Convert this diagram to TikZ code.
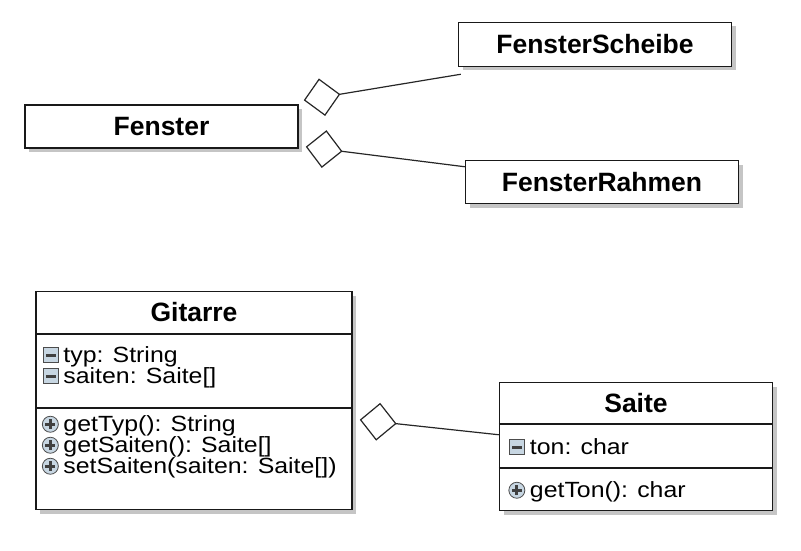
\documentclass[tikz,border=0pt]{standalone}
\usepackage{fontspec}
\setmainfont{Liberation Sans}
\newfontfamily\memberfont[FakeStretch = 1.13]{Liberation Sans}
\usetikzlibrary{positioning}
\usetikzlibrary{shadows}
\usetikzlibrary{arrows.meta}
\usetikzlibrary{calc}
\definecolor{iconfill}{RGB}{199,214,226}

\begin{document}
\begin{tikzpicture}[x = 1pt, y = -1pt,
classbox/.style = {draw = black!90, line width = 1.5pt, fill = white, drop shadow = {shadow xshift = 4pt, shadow yshift = -4pt, fill = black!45}, inner sep = 0pt, font = \fontsize{26.5}{30}\selectfont\bfseries},
classname/.style = {inner sep = 0pt, font = \fontsize{26.5}{30}\selectfont\bfseries},
member/.style = {anchor = base west, inner sep = 0pt, text height = 14pt, text depth = 4pt, font = \memberfont\fontsize{22}{26}\selectfont},
privicon/.style = {draw = black!70, fill = iconfill, thick, minimum width = 15pt, minimum height = 15pt, inner sep = 0pt, xshift = -4.5pt, yshift = 2.5pt, path picture = {\fill[black!75] ($(path picture bounding box.center)+(-5,-1.6)$) rectangle +(10,3.2);}},
pubicon/.style = {circle, draw = black!70, fill = iconfill, thick, minimum width = 16pt, minimum height = 16pt, inner sep = 0pt, xshift = -4.5pt, yshift = 2.5pt, path picture = {\fill[black!75] ($(path picture bounding box.center)+(-5,-1.5)$) rectangle +(10,3); \fill[black!75] ($(path picture bounding box.center)+(-1.5,-5)$) rectangle +(3,10);}},
priv/.style = {label = {[privicon]left:{}}},
pub/.style = {label = {[pubicon]left:{}}},
sepline/.style = {draw = black!90, line width = 1.5pt},
aggr/.style = {{Diamond[fill = white, length = 37pt, width = 38pt]}-, draw = black!85, line width = 1.2pt},
]
\useasboundingbox (0,0) rectangle (801,551);

% windows
\node[classbox, minimum width = 273pt, minimum height = 43pt] (fenster) at (161.5,126.5) {Fenster};
\node[classbox, minimum width = 273pt, minimum height = 44pt] (scheibe) [above right = 37pt and 159pt of fenster.north east] {FensterScheibe};
\node[classbox, minimum width = 273pt, minimum height = 43pt] (rahmen) [below right = 11pt and 166pt of fenster.south east] {FensterRahmen};

\coordinate (fscheibe) at ($(fenster.north east)+(5,-4)$);
\coordinate (tscheibe) at ($(scheibe.south west)+(3,7)$);
\coordinate (frahmen) at ($(fenster.south east)+(7,-2)$);
\coordinate (trahmen) at ($(rahmen.north west)+(0,7)$);
\draw[aggr] (fscheibe) -- (tscheibe);
\draw[aggr] (frahmen) -- (trahmen);

% guitar
\node[classbox, minimum width = 316pt, minimum height = 218pt] (gitarre) [below right = 142pt and 11pt of fenster.south west] {};
\node[classname] (gitarrename) at ($(gitarre.north)+(0,21.5)$) {Gitarre};
\draw[sepline] ($(gitarre.north west)+(0,43)$) -- ($(gitarre.north east)+(0,43)$);
\draw[sepline] ($(gitarre.north west)+(0,117)$) -- ($(gitarre.north east)+(0,117)$);
\node[member, priv] (typ) at ($(gitarre.north west)+(28,72)$) {typ: String};
\node[member, priv] (saiten) at ($(gitarre.north west)+(28,93)$) {saiten: Saite[]};
\node[member, pub] (gettyp) at ($(gitarre.north west)+(28,141)$) {getTyp(): String};
\node[member, pub] (getsaiten) at ($(gitarre.north west)+(28,162)$) {getSaiten(): Saite[]};
\node[member, pub] (setsaiten) at ($(gitarre.north west)+(28,183)$) {setSaiten(saiten: Saite[])};

\node[classbox, minimum width = 273pt, minimum height = 128pt] (saite) [below right = 91pt and 146pt of gitarre.north east] {};
\node[classname] (saitename) at ($(saite.north)+(0,21)$) {Saite};
\draw[sepline] ($(saite.north west)+(0,42)$) -- ($(saite.north east)+(0,42)$);
\draw[sepline] ($(saite.north west)+(0,86)$) -- ($(saite.north east)+(0,86)$);
\node[member, priv] (ton) at ($(saite.north west)+(31,73)$) {ton: char};
\node[member, pub] (getton) at ($(saite.north west)+(31,116)$) {getTon(): char};

\coordinate (fsaite) at ($(gitarre.north east)+(7,129)$);
\coordinate (tsaite) at ($(saite.north west)+(0,53)$);
\draw[aggr] (fsaite) -- (tsaite);
\end{tikzpicture}
\end{document}
